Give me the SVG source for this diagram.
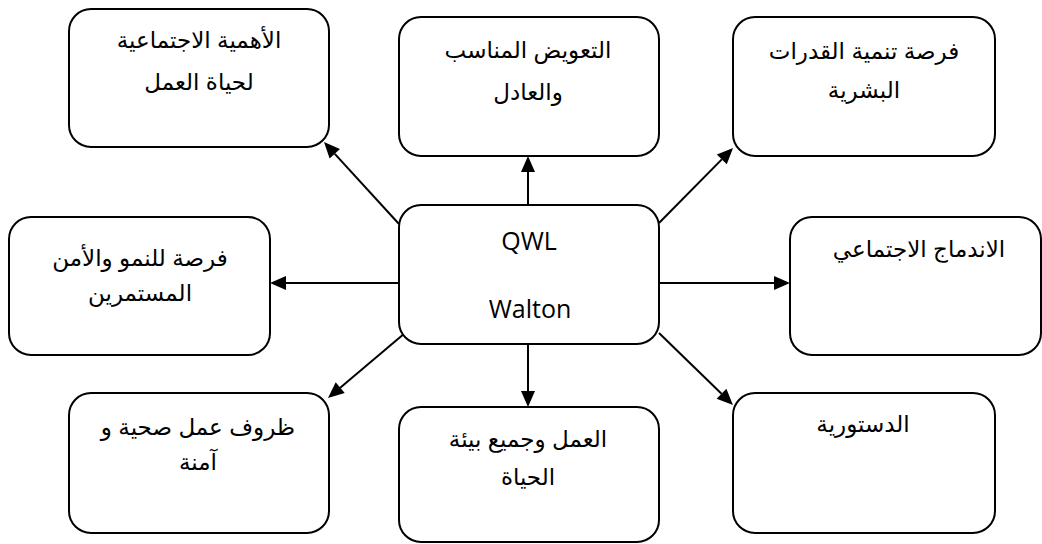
<svg xmlns="http://www.w3.org/2000/svg" width="1042" height="544" viewBox="0 0 1042 544">
  <style>
    .box { fill: #ffffff; stroke: #000000; stroke-width: 2; }
    .ar { font-family: "Liberation Sans", "DejaVu Sans", sans-serif; font-size: 23px; fill: #000000; text-anchor: middle; direction: rtl; }
    .lat { font-family: "Open Sans", "Liberation Sans", sans-serif; font-size: 25px; fill: #000000; text-anchor: middle; }
    .link { stroke: #000000; stroke-width: 2; fill: none; marker-end: url(#head); }
  </style>
  <defs>
    <marker id="head" markerUnits="userSpaceOnUse" viewBox="0 -8 17 16" markerWidth="17" markerHeight="16" refX="0" refY="0" orient="auto" overflow="visible">
      <path d="M0,-7 L16,0 L0,7 z" fill="#000000"/>
    </marker>
  </defs>

  <rect width="1042" height="544" fill="#ffffff"/>

  <!-- connectors from the central node outwards -->
  <g id="connectors">
    <line class="link" x1="528" y1="205" x2="528" y2="172"/>
    <line class="link" x1="528" y1="344" x2="528" y2="391"/>
    <line class="link" x1="399" y1="283" x2="286" y2="283"/>
    <line class="link" x1="659" y1="283" x2="774" y2="283"/>
    <line class="link" x1="399" y1="224" x2="334.8" y2="153.8"/>
    <line class="link" x1="659" y1="223" x2="721.8" y2="159.4"/>
    <line class="link" x1="405" y1="333" x2="340.2" y2="387.7"/>
    <line class="link" x1="659" y1="333" x2="721.5" y2="393.8"/>
  </g>

  <g id="center">
    <rect class="box" x="399" y="205" width="260" height="139" rx="22"/>
    <text class="lat" x="529" y="250">QWL</text>
    <text class="lat" x="530" y="318">Walton</text>
  </g>

  <g id="social-importance">
    <rect class="box" x="69" y="9" width="260" height="138" rx="22"/>
    <text class="ar" x="199" y="48">الأهمية الاجتماعية</text>
    <text class="ar" x="199" y="90">لحياة العمل</text>
  </g>

  <g id="compensation">
    <rect class="box" x="399" y="17" width="260" height="139" rx="22"/>
    <text class="ar" x="528" y="58">التعويض المناسب</text>
    <text class="ar" x="528" y="100">والعادل</text>
  </g>

  <g id="human-capacities">
    <rect class="box" x="733" y="17" width="262" height="139" rx="22"/>
    <text class="ar" x="864" y="59">فرصة تنمية القدرات</text>
    <text class="ar" x="864" y="98">البشرية</text>
  </g>

  <g id="growth-security">
    <rect class="box" x="9" y="217" width="261" height="138" rx="22"/>
    <text class="ar" x="140" y="266">فرصة للنمو والأمن</text>
    <text class="ar" x="140" y="301">المستمرين</text>
  </g>

  <g id="social-integration">
    <rect class="box" x="790" y="217" width="251" height="138" rx="22"/>
    <text class="ar" x="919" y="257">الاندماج الاجتماعي</text>
  </g>

  <g id="safe-conditions">
    <rect class="box" x="69" y="393" width="260" height="140" rx="22"/>
    <text class="ar" x="198" y="435">ظروف عمل صحية و</text>
    <text class="ar" x="198" y="470">آمنة</text>
  </g>

  <g id="work-life">
    <rect class="box" x="399" y="407" width="260" height="135" rx="22"/>
    <text class="ar" x="528" y="447">العمل وجميع بيئة</text>
    <text class="ar" x="528" y="485">الحياة</text>
  </g>

  <g id="constitutionalism">
    <rect class="box" x="733" y="393" width="262" height="140" rx="22"/>
    <text class="ar" x="863" y="432">الدستورية</text>
  </g>
</svg>
